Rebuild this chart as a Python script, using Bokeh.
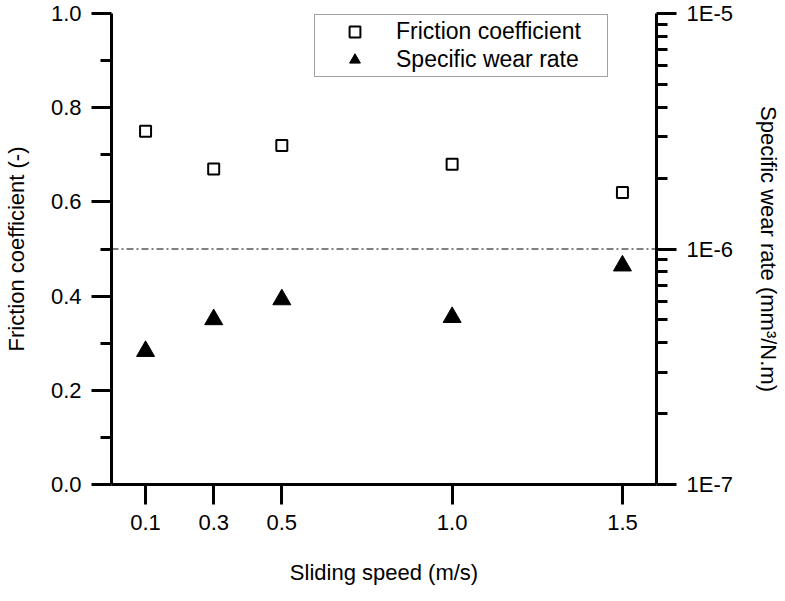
from bokeh.plotting import figure
from bokeh.models import (Range1d, LogScale, LogAxis, LinearAxis, FixedTicker,
                          CustomJSTickFormatter, Span, Legend, LegendItem, ColumnDataSource)
from bokeh.embed import file_html
from bokeh.resources import INLINE

# ---- data ----
speed = [0.1, 0.3, 0.5, 1.0, 1.5]
speed_labels = ["0.1", "0.3", "0.5", "1.0", "1.5"]
friction = [0.75, 0.67, 0.72, 0.68, 0.62]
wear_rate = [3.68e-7, 5.02e-7, 6.10e-7, 5.13e-7, 8.49e-7]
left_ticks = [0.0, 0.2, 0.4, 0.6, 0.8, 1.0]
left_minor = [0.1, 0.3, 0.5, 0.7, 0.9]
right_ticks = [1e-7, 1e-6, 1e-5]
right_minor = [2e-7, 3e-7, 4e-7, 5e-7, 6e-7, 7e-7, 8e-7, 9e-7,
               2e-6, 3e-6, 4e-6, 5e-6, 6e-6, 7e-6, 8e-6, 9e-6]
ref_level = 1e-6

FONT = "Liberation Sans"
FS = "22px"

TOP = 13
FRAME_H = 471

p = figure(frame_width=545, frame_height=FRAME_H, output_backend="svg", toolbar_location=None,
           x_range=Range1d(0, 1.6), y_range=Range1d(0, 1.0),
           min_border_left=108, min_border_right=122, min_border_top=TOP, min_border_bottom=108,
           x_axis_location=None, y_axis_location=None)
p.outline_line_color = None
p.xgrid.visible = False
p.ygrid.visible = False
p.background_fill_color = "white"
p.border_fill_color = "white"

p.extra_y_ranges = {"wear": Range1d(1e-7, 1e-5)}
p.extra_y_scales = {"wear": LogScale()}


def style(ax):
    ax.axis_line_width = 3
    ax.axis_line_color = "black"
    ax.major_tick_line_width = 3
    ax.minor_tick_line_width = 3
    ax.major_tick_line_color = "black"
    ax.minor_tick_line_color = "black"
    ax.major_tick_in = 0
    ax.minor_tick_in = 0
    ax.major_tick_out = 20
    ax.minor_tick_out = 11
    ax.major_label_text_font = FONT
    ax.major_label_text_font_size = FS
    ax.major_label_text_color = "black"
    ax.axis_label_text_font = FONT
    ax.axis_label_text_font_size = FS
    ax.axis_label_text_font_style = "normal"
    ax.axis_label_text_color = "black"
    ax.major_label_standoff = 10


xaxis = LinearAxis(ticker=FixedTicker(ticks=speed), axis_label="Sliding speed (m/s)")
style(xaxis)
xaxis.major_label_overrides = {v: s for v, s in zip(speed, speed_labels)}
xaxis.axis_label_standoff = 27
p.add_layout(xaxis, "below")

yaxis = LinearAxis(ticker=FixedTicker(ticks=left_ticks, minor_ticks=left_minor),
                   axis_label="Friction coefficient (-)")
style(yaxis)
yaxis.formatter = CustomJSTickFormatter(code="return tick.toFixed(1);")
yaxis.axis_label_standoff = 19
p.add_layout(yaxis, "left")

raxis = LogAxis(y_range_name="wear", ticker=FixedTicker(ticks=right_ticks, minor_ticks=right_minor),
                axis_label="Specific wear rate (mm³/N.m)")
style(raxis)
raxis.formatter = CustomJSTickFormatter(code="return tick.toExponential(0).toUpperCase().replace('+','');")
raxis.axis_label_standoff = 20
p.add_layout(raxis, "right")

p.add_layout(Span(location=ref_level, dimension="width", y_range_name="wear",
                  line_color="black", line_width=1, line_dash="7 3 2 3"))

src_f = ColumnDataSource(dict(x=speed, y=friction))
src_w = ColumnDataSource(dict(x=speed, y=wear_rate))
r1 = p.scatter("x", "y", source=src_f, marker="square", size=11, fill_color="white",
               line_color="black", line_width=2)
r2 = p.scatter("x", "y", source=src_w, marker="triangle", size=18, fill_color="black",
               line_color="black", line_width=1, y_range_name="wear")

LEG_H = 3 + 27 + 1 + 27 + 3
legend = Legend(items=[LegendItem(label="Friction coefficient", renderers=[r1]),
                       LegendItem(label="Specific wear rate", renderers=[r2])],
                location=(203, FRAME_H - LEG_H - 3), orientation="vertical")
legend.label_text_font = FONT
legend.label_text_font_size = "23px"
legend.label_text_color = "black"
legend.border_line_color = "#444444"
legend.border_line_width = 1.5
legend.background_fill_alpha = 1
legend.padding = 3
legend.spacing = 1
legend.glyph_width = 73
legend.glyph_height = 27
legend.label_height = 27
legend.label_width = 208
legend.label_standoff = 5
legend.margin = 0
p.add_layout(legend, "center")

open("out.html", "w").write(file_html(p, INLINE))
